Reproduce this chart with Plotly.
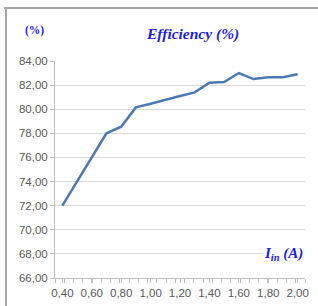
import numpy as np
import plotly.graph_objects as go

current = [0.4, 0.5, 0.6, 0.7, 0.8, 0.9, 1.0, 1.1, 1.2, 1.3, 1.4, 1.5, 1.6, 1.7, 1.8, 1.9, 2.0]
efficiency = [72.0, 74.0, 76.0, 78.0, 78.55, 80.15, 80.45, 80.8, 81.1, 81.4, 82.2, 82.25, 83.0, 82.5, 82.65, 82.65, 82.9]
x_ticks = [0.4, 0.6, 0.8, 1.0, 1.2, 1.4, 1.6, 1.8, 2.0]
x_labels = ["0,40", "0,60", "0,80", "1,00", "1,20", "1,40", "1,60", "1,80", "2,00"]
y_ticks = [66, 68, 70, 72, 74, 76, 78, 80, 82, 84]
y_labels = ["66,00", "68,00", "70,00", "72,00", "74,00", "76,00", "78,00", "80,00", "82,00", "84,00"]

W, H = 318, 306
L, R, T, B = 55, 13, 61, 28
PW, PH = W - L - R, H - T - B

def px(x):
    return (x - L) / PW

def py(y):
    return (H - B - y) / PH

xr = [0.35, 2.05]
fig = go.Figure()
fig.add_trace(go.Scatter(x=current, y=efficiency, mode="lines",
                         line=dict(color="#4a79b3", width=2.5), showlegend=False,
                         hoverinfo="skip"))

tickfont = dict(family="Liberation Sans", size=11.5, color="#595959")
fig.update_layout(
    width=W, height=H,
    margin=dict(l=L, r=R, t=T, b=B, autoexpand=False),
    paper_bgcolor="white", plot_bgcolor="white",
    xaxis=dict(range=xr, tickvals=x_ticks, ticktext=x_labels, tickfont=tickfont,
               automargin=False,
               showgrid=False, showline=True, linecolor="#bfbfbf", linewidth=1,
               ticks="outside", ticklen=4, tickcolor="#bfbfbf",
               minor=dict(tickvals=list(np.linspace(xr[0], xr[1], 28)), ticks="outside",
                          ticklen=4, tickcolor="#bfbfbf", showgrid=False),
               zeroline=False, fixedrange=True),
    yaxis=dict(range=[66, 84], tickvals=y_ticks, ticktext=y_labels, tickfont=tickfont,
               automargin=False,
               showgrid=True, gridcolor="#d9d9d9", gridwidth=1,
               showline=True, linecolor="#bfbfbf", linewidth=1,
               ticks="outside", ticklen=4, tickcolor="#bfbfbf",
               zeroline=False, fixedrange=True),
    shapes=[
        dict(type="line", xref="paper", yref="paper", x0=px(4), x1=px(320), y0=py(8), y1=py(8),
             line=dict(color="#a6a6a6", width=2)),
        dict(type="line", xref="paper", yref="paper", x0=px(6), x1=px(6), y0=py(8), y1=py(310),
             line=dict(color="#a6a6a6", width=2)),
    ],
    annotations=[
        dict(text="<b><i>Efficiency (%)</i></b>", xref="paper", yref="paper",
             x=px(192), y=py(34), xanchor="center", yanchor="middle", showarrow=False,
             font=dict(family="Liberation Serif", size=15.5, color="#1c1ce6")),
        dict(text="<b>(%)</b>", xref="paper", yref="paper",
             x=px(34), y=py(30), xanchor="center", yanchor="middle", showarrow=False,
             font=dict(family="Liberation Serif", size=11.5, color="#1c1ce6")),
        dict(text="<b><i>I<sub>in</sub> (A)</i></b>", xref="paper", yref="paper",
             x=px(283), y=py(254), xanchor="center", yanchor="middle", showarrow=False,
             bgcolor="white",
             font=dict(family="Liberation Serif", size=15, color="#1c1ce6")),
    ],
)
fig.write_html("out.html", config={"displayModeBar": False},
               post_script="document.body.style.margin='0';")
